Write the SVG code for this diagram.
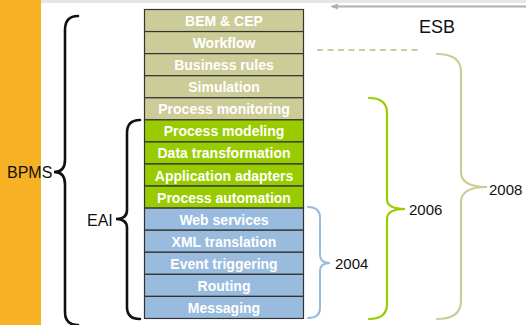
<svg xmlns="http://www.w3.org/2000/svg" width="526" height="325" viewBox="0 0 526 325">
<defs>
<style>
.row rect{stroke:#333;stroke-width:1.2}
.row text{font-family:"Liberation Sans",Arial,sans-serif;font-weight:bold;font-size:14px;fill:#fff;text-anchor:middle}
.k rect{fill:#CCCC99}
.g rect{fill:#99CC00}
.b rect{fill:#99BBDD}
.lbl{font-family:"Liberation Sans",Arial,sans-serif;font-size:15px;fill:#111}
.big{font-size:16px}
.brace{fill:none;stroke-linecap:round}
</style>
<marker id="ah" viewBox="0 0 10 10" refX="8" refY="5" markerWidth="8" markerHeight="8" orient="auto" markerUnits="userSpaceOnUse">
<path d="M0,1 L10,5 L0,9 Z" fill="#B0B0B0"/>
</marker>
</defs>
<rect x="0" y="0" width="526" height="325" fill="#fff"/>
<rect id="bar" x="0" y="0" width="41" height="325" fill="#F7B124"/>
<rect x="41" y="0" width="485" height="3" fill="#E6E6E6"/>

<g id="stack">
<g id="n1" class="row k"><rect x="144.5" y="9.5" width="159" height="22.07"/><text x="224" y="26">BEM &amp; CEP</text></g>
<g id="n2" class="row k"><rect x="144.5" y="31.57" width="159" height="22.07"/><text x="224" y="48">Workflow</text></g>
<g id="n3" class="row k"><rect x="144.5" y="53.64" width="159" height="22.07"/><text x="224" y="70.2">Business rules</text></g>
<g id="n4" class="row k"><rect x="144.5" y="75.71" width="159" height="22.07"/><text x="224" y="92.2">Simulation</text></g>
<g id="n5" class="row k"><rect x="144.5" y="97.78" width="159" height="22.07"/><text x="224" y="114.3">Process monitoring</text></g>
<g id="n6" class="row g"><rect x="144.5" y="119.85" width="159" height="22.07"/><text x="224" y="136.4">Process modeling</text></g>
<g id="n7" class="row g"><rect x="144.5" y="141.92" width="159" height="22.07"/><text x="224" y="158.4">Data transformation</text></g>
<g id="n8" class="row g"><rect x="144.5" y="163.99" width="159" height="22.07"/><text x="224" y="180.5">Application adapters</text></g>
<g id="n9" class="row g"><rect x="144.5" y="186.06" width="159" height="22.07"/><text x="224" y="202.6">Process automation</text></g>
<g id="n10" class="row b"><rect x="144.5" y="208.13" width="159" height="22.07"/><text x="224" y="224.6">Web services</text></g>
<g id="n11" class="row b"><rect x="144.5" y="230.2" width="159" height="22.07"/><text x="224" y="246.7">XML translation</text></g>
<g id="n12" class="row b"><rect x="144.5" y="252.27" width="159" height="22.07"/><text x="224" y="268.8">Event triggering</text></g>
<g id="n13" class="row b"><rect x="144.5" y="274.34" width="159" height="22.07"/><text x="224" y="290.8">Routing</text></g>
<g id="n14" class="row b"><rect x="144.5" y="296.41" width="159" height="22.07"/><text x="224" y="312.9">Messaging</text></g>
</g>

<g id="connectors">
<line x1="526" y1="6.5" x2="332" y2="6.5" stroke="#B0B0B0" stroke-width="2" marker-end="url(#ah)"/>
<line x1="317" y1="50" x2="420" y2="50" stroke="#CCCC99" stroke-width="2" stroke-dasharray="6,4.5"/>
<path class="brace" stroke="#111" stroke-width="2.6" d="M78,16 Q65,16 65,30 L65,160 Q65,172 54,172 Q65,172 65,184 L65,312 Q65,325 78,325"/>
<path class="brace" stroke="#111" stroke-width="2.6" d="M140,120 Q127,120 127,133 L127,210 Q127,219 116,219 Q127,219 127,228 L127,307 Q127,319 140,319"/>
<path class="brace" stroke="#99BBDD" stroke-width="2" d="M308,207 Q320,207 320,218 L320,255 Q320,263 330,263 Q320,263 320,271 L320,308 Q320,318 308,318"/>
<path class="brace" stroke="#99CC00" stroke-width="2.2" d="M369,98 Q387,98 387,113 L387,199 Q387,209 405,209 Q387,209 387,219 L387,304 Q387,319 369,319"/>
<path class="brace" stroke="#CCCC99" stroke-width="2.2" d="M437,54 Q461,54 461,72 L461,172 Q461,187 487,187 Q461,187 461,202 L461,301 Q461,319 437,319"/>
</g>

<g id="labels">
<text class="lbl big" x="7" y="178">BPMS</text>
<text class="lbl big" x="87" y="226">EAI</text>
<text class="lbl" x="335" y="269">2004</text>
<text class="lbl" x="409" y="215">2006</text>
<text class="lbl" x="489" y="195">2008</text>
<text class="lbl" x="419" y="33" style="font-size:18px">ESB</text>
</g>
</svg>
